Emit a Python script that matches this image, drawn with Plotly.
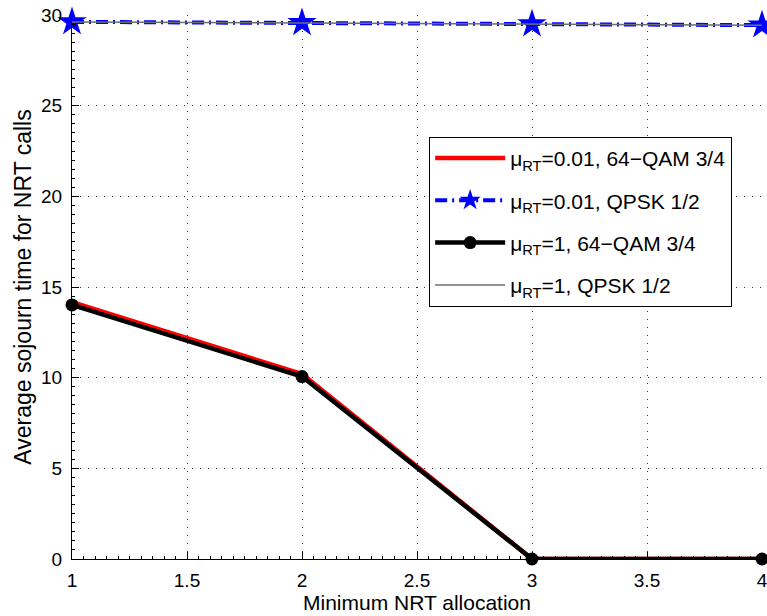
import plotly.graph_objects as go

x_vals = [1, 2, 3, 4]
red_vals = [14.17, 10.2, 0.0, 0.0]
blue_vals = [29.62, 29.57, 29.5, 29.44]
black_vals = [14.01, 10.06, 0.0, 0.0]
gray_vals = [29.62, 29.57, 29.5, 29.44]
names = ["μ<sub>RT</sub>=0.01, 64−QAM 3/4", "μ<sub>RT</sub>=0.01, QPSK 1/2",
         "μ<sub>RT</sub>=1, 64−QAM 3/4", "μ<sub>RT</sub>=1, QPSK 1/2"]
x_ticks = [1, 1.5, 2, 2.5, 3, 3.5, 4]
y_ticks = [0, 5, 10, 15, 20, 25, 30]

FONT = "Liberation Sans, Arial, Helvetica, sans-serif"

fig = go.Figure()
fig.add_trace(go.Scatter(x=x_vals, y=red_vals, mode="lines", name=names[0], legendgroup="a",
                         line=dict(color="#ff0000", width=4.5), cliponaxis=False))
fig.add_trace(go.Scatter(x=x_vals, y=blue_vals, mode="lines+markers", name=names[1], legendgroup="b",
                         line=dict(color="#0000ff", width=4, dash="12px,5px,2px,5px"),
                         marker=dict(symbol="star", size=22, color="#0000ff"), cliponaxis=False))
fig.add_trace(go.Scatter(x=x_vals, y=black_vals, mode="lines+markers", name=names[2], legendgroup="c",
                         line=dict(color="#000000", width=4.5),
                         marker=dict(symbol="circle", size=13, color="#000000"), cliponaxis=False))
fig.add_trace(go.Scatter(x=x_vals, y=gray_vals, mode="lines", name=names[3], legendgroup="d",
                         line=dict(color="#6e6e6e", width=1.5), cliponaxis=False))

axis_common = dict(showline=True, linecolor="black", linewidth=1, mirror=False,
                   ticks="inside", ticklen=7, tickcolor="black",
                   showgrid=True, gridcolor="#333333", griddash="1px,7px", gridwidth=1,
                   zeroline=False, tickfont=dict(size=19, color="black", family=FONT),
                   automargin=False, ticklabeloverflow="allow")

fig.update_xaxes(range=[1, 4], tickvals=x_ticks, ticktext=[str(v) for v in x_ticks],
                 ticklabelstandoff=4,
                 title=dict(text="Minimum NRT allocation", font=dict(size=21, color="black", family=FONT), standoff=1),
                 minor=dict(ticks="inside", ticklen=3, tickcolor="black", showgrid=False, dtick=0.05),
                 **axis_common)
fig.update_yaxes(range=[0, 30], tickvals=y_ticks, ticklabelstandoff=5,
                 title=dict(text="Average sojourn time for NRT calls", font=dict(size=23, color="black", family=FONT), standoff=3),
                 minor=dict(ticks="inside", ticklen=3, tickcolor="black", showgrid=False, dtick=0.5),
                 **axis_common)

fig.update_layout(
    width=767, height=616,
    margin=dict(l=72, r=5, t=15, b=57),
    plot_bgcolor="white", paper_bgcolor="white",
    font=dict(family=FONT, color="black"),
    legend=dict(x=0.5176, y=0.776, xanchor="left", yanchor="top",
                bgcolor="white", bordercolor="black", borderwidth=1,
                font=dict(size=21, color="black", family=FONT), tracegroupgap=12,
                itemwidth=70),
    showlegend=True,
)

# remove the page's default body margin so the figure fills the window exactly
fig.write_html("out.html", config={"displayModeBar": False},
               post_script="document.body.style.margin='0';")
